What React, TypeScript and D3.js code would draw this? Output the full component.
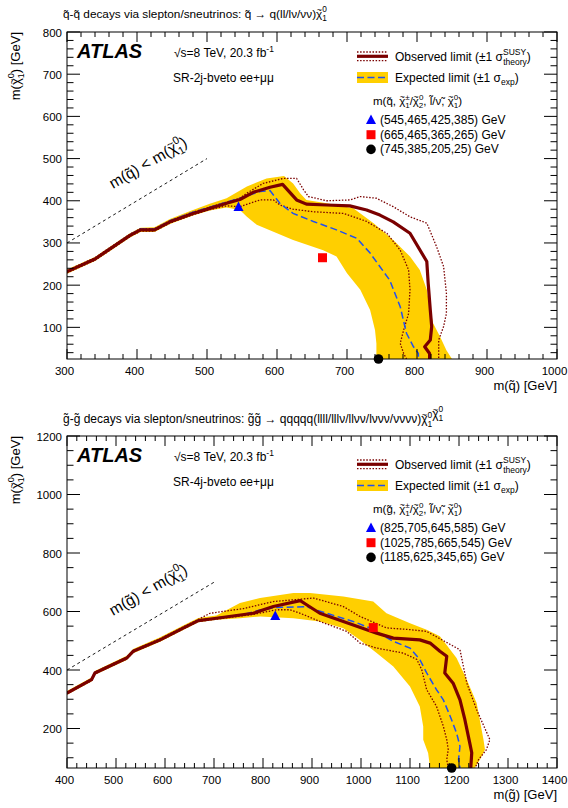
import React from "react";
import * as d3 from "d3";

type P = [number, number];

// ---------------- Top panel (squark) data ----------------
const sqXTicks = [300, 400, 500, 600, 700, 800, 900, 1000];
const sqYTicks = [100, 200, 300, 400, 500, 600, 700, 800];

const sqObserved: P[] = [
  [300, 232], [340, 262], [390, 318], [405, 331], [425, 331], [447, 350], [480, 370],
  [504, 382], [528, 394], [547, 403], [566, 420], [590, 432], [608, 439], [628, 402],
  [642, 392], [671, 390], [704, 388], [728, 378], [747, 366], [766, 350], [790, 323],
  [814, 256], [816, 204], [819, 141], [821, 102], [819, 70], [811, 54], [818, 38], [818, 25],
];
const sqObsUp: P[] = [
  [300, 235], [340, 265], [390, 321], [405, 334], [425, 334], [447, 353], [480, 373],
  [504, 385], [528, 397], [547, 406], [557, 418], [580, 441], [609, 453], [628, 453],
  [638, 426], [645, 410], [671, 400], [704, 402], [719, 410], [742, 406], [766, 386],
  [790, 362], [814, 347], [828, 291], [838, 244], [842, 181], [842, 133], [838, 102],
  [831, 70], [831, 38], [831, 25],
];
const sqObsDown: P[] = [
  [300, 229], [340, 259], [390, 315], [405, 328], [425, 328], [447, 347], [480, 367],
  [504, 379], [528, 388], [547, 386], [576, 402], [595, 402], [604, 390], [623, 380],
  [652, 374], [695, 370], [728, 351], [757, 323], [776, 283], [788, 236], [790, 189],
  [788, 133], [781, 94], [776, 62], [781, 38], [785, 25],
];
const sqExpected: P[] = [
  [300, 233], [340, 263], [390, 320], [405, 333], [425, 333], [447, 353], [480, 373],
  [504, 385], [528, 397], [547, 406], [576, 422], [590, 424], [604, 394], [623, 370],
  [652, 351], [685, 331], [714, 311], [733, 276], [761, 212], [776, 149], [785, 86],
  [795, 54], [802, 38], [802, 25],
];
const sqBandUp: P[] = [
  [300, 237], [340, 267], [390, 323], [405, 336], [425, 337], [447, 357], [480, 378],
  [504, 393], [528, 406], [557, 434], [585, 453], [610, 459], [623, 441], [633, 418],
  [642, 402], [671, 394], [709, 382], [738, 347], [766, 307], [790, 268], [804, 236],
  [814, 189], [819, 141], [823, 110], [833, 78], [842, 46], [850, 25],
];
const sqBandDown: P[] = [
  [300, 227], [340, 257], [390, 313], [405, 326], [425, 326], [447, 345], [480, 365],
  [504, 377], [528, 384], [547, 378], [557, 362], [571, 343], [600, 323], [623, 307],
  [666, 283], [685, 268], [700, 228], [719, 189], [733, 141], [740, 94], [742, 62], [742, 25],
];
const sqMarkers = [
  { shape: "tri", m: [545, 385] as P, label: "(545,465,425,385) GeV" },
  { shape: "sq", m: [665, 265] as P, label: "(665,465,365,265) GeV" },
  { shape: "circ", m: [745, 25] as P, label: "(745,385,205,25) GeV" },
];

// ---------------- Bottom panel (gluino) data ----------------
const glXTicks = [400, 500, 600, 700, 800, 900, 1000, 1100, 1200, 1300, 1400];
const glYTicks = [200, 400, 600, 800, 1000, 1200];

const glObserved: P[] = [
  [400, 321], [450, 367], [457, 390], [522, 441], [535, 464], [590, 503], [637, 543],
  [668, 569], [705, 577], [780, 594], [821, 617], [876, 637], [889, 623], [916, 594],
  [964, 566], [1032, 526], [1066, 509], [1120, 503], [1141, 492], [1161, 464],
  [1175, 447], [1171, 390], [1188, 355], [1202, 298], [1212, 230], [1222, 150],
  [1226, 117], [1224, 65],
];
const glObsUp: P[] = [
  [400, 324], [450, 370], [457, 393], [522, 444], [535, 467], [590, 507], [637, 547],
  [668, 573], [692, 594], [760, 610], [821, 634], [903, 646], [964, 617], [998, 583],
  [1052, 544], [1100, 538], [1134, 532], [1202, 469], [1216, 355], [1236, 264],
  [1263, 162], [1256, 128], [1240, 94], [1233, 65],
];
const glObsDown: P[] = [
  [400, 318], [450, 364], [457, 387], [522, 438], [535, 461], [590, 500], [637, 540],
  [668, 566], [705, 574], [780, 590], [828, 606], [855, 606], [876, 594], [916, 566],
  [971, 532], [998, 492], [1032, 475], [1086, 458], [1114, 436], [1124, 401],
  [1134, 333], [1154, 276], [1168, 208], [1175, 162], [1178, 128], [1175, 94], [1178, 65],
];
const glExpected: P[] = [
  [400, 322], [450, 368], [457, 391], [522, 442], [535, 465], [590, 504], [637, 544],
  [668, 570], [705, 578], [760, 590], [794, 605], [828, 614], [889, 616], [930, 594],
  [984, 566], [1018, 544], [1066, 498], [1100, 475], [1120, 436], [1134, 390],
  [1154, 333], [1168, 298], [1182, 242], [1195, 185], [1202, 139], [1199, 94], [1202, 65],
];
const glBandUp: P[] = [
  [400, 328], [450, 374], [457, 397], [522, 449], [535, 472], [590, 512], [637, 552],
  [668, 578], [705, 586], [753, 629], [794, 646], [862, 663], [896, 663], [964, 651],
  [1025, 634], [1052, 594], [1100, 560], [1134, 538], [1161, 515], [1195, 441],
  [1216, 367], [1236, 287], [1250, 162], [1253, 128], [1243, 94], [1232, 65],
];
const glBandDown: P[] = [
  [400, 315], [450, 361], [457, 384], [522, 434], [535, 457], [590, 497], [637, 537],
  [668, 563], [705, 572], [753, 577], [794, 583], [862, 577], [916, 566], [964, 543],
  [998, 503], [1032, 458], [1066, 412], [1100, 344], [1120, 275], [1127, 207],
  [1127, 162], [1137, 116], [1141, 65],
];
const glMarkers = [
  { shape: "tri", m: [825, 585] as P, label: "(825,705,645,585) GeV" },
  { shape: "sq", m: [1025, 545] as P, label: "(1025,785,665,545) GeV" },
  { shape: "circ", m: [1185, 65] as P, label: "(1185,625,345,65) GeV" },
];

// ---------------- styling ----------------
const FONT = "'Liberation Sans', Arial, Helvetica, sans-serif";
const RED = "#7a0000";
const BLUE = "#2050f0";
const YEL = "#ffcf00";

const T = (s: string) => s + "\u0303";

// chi with manual tilde, stacked subscript / superscript, then trailing text
function chi(fs: number, sub: string, sup: string, after: string, k: string) {
  const sfs = 0.7 * fs;
  const w = sub.length * 0.556 * sfs;
  return [
    <tspan key={k + "0"}>{"\u03C7"}</tspan>,
    <tspan key={k + "1"} fontSize={0.75 * fs} dx={-0.47 * fs} dy={-0.42 * fs}>~</tspan>,
    <tspan key={k + "2"} fontSize={sfs} dx={0.03 * fs} dy={0.42 * fs + 0.3 * fs}>{sub}</tspan>,
    <tspan key={k + "3"} fontSize={sfs} dx={-w} dy={-0.75 * fs}>{sup}</tspan>,
    <tspan key={k + "4"} dy={0.45 * fs}>{after}</tspan>,
  ];
}

function Marker({ shape, cx, cy }: { shape: string; cx: number; cy: number }) {
  if (shape === "tri")
    return <path d={`M${cx},${cy - 5.5}L${cx + 5},${cy + 4}L${cx - 5},${cy + 4}Z`} fill="#0000ff" />;
  if (shape === "sq") return <rect x={cx - 4.5} y={cy - 4.5} width={9} height={9} fill="#ff0000" />;
  return <circle cx={cx} cy={cy} r={4.8} fill="#000" />;
}

type PanelProps = {
  id: string;
  x0: number; x1: number; y0: number; y1: number;
  xDom: [number, number]; yDom: [number, number];
  xTicks: number[]; yTicks: number[]; xMinor: number; yMinor: number;
  obs: P[]; obsUp: P[]; obsDown: P[]; exp: P[]; bandUp: P[]; bandDown: P[];
  markers: { shape: string; m: P; label: string }[];
  part: string; sr: string; diagEnd: number;
  legDy: number; textDy: number;
};

function Panel(p: PanelProps) {
  const x = d3.scaleLinear().domain(p.xDom).range([p.x0, p.x1]);
  const y = d3.scaleLinear().domain(p.yDom).range([p.y1, p.y0]);
  const line = d3.line<P>().x((d) => x(d[0])).y((d) => y(d[1]));
  const band = line([...p.bandUp, ...p.bandDown.slice().reverse()]) + "Z";
  const xMin = d3.range(p.xDom[0], p.xDom[1] + 0.01, p.xMinor);
  const yStart = Math.ceil(p.yDom[0] / p.yMinor) * p.yMinor;
  const yMin = d3.range(yStart, p.yDom[1] + 0.01, p.yMinor);
  const fs = 11.5;
  const dStart = p.xDom[0];
  const dx0 = x(dStart), dy0 = y(dStart), dx1 = x(p.diagEnd), dy1 = y(p.diagEnd);
  const ang = (Math.atan2(dy1 - dy0, dx1 - dx0) * 180) / Math.PI;
  const L = p.legDy;
  const Tt = p.textDy;
  return (
    <g fontFamily={FONT}>
      <defs>
        <clipPath id={p.id}>
          <rect x={p.x0} y={p.y0} width={p.x1 - p.x0} height={p.y1 - p.y0} />
        </clipPath>
      </defs>
      <g clipPath={`url(#${p.id})`}>
        <path d={band} fill={YEL} />
        <path d={line(p.obsUp)!} fill="none" stroke={RED} strokeWidth={1.3} strokeDasharray="1.5,1.6" />
        <path d={line(p.obsDown)!} fill="none" stroke={RED} strokeWidth={1.3} strokeDasharray="1.5,1.6" />
        <path d={line(p.exp)!} fill="none" stroke={BLUE} strokeWidth={1.5} strokeDasharray="7,3.5" />
        <path d={line(p.obs)!} fill="none" stroke={RED} strokeWidth={3.2} strokeLinejoin="round" />
        <line x1={dx0} y1={dy0} x2={dx1} y2={dy1} stroke="#000" strokeWidth={0.9} strokeDasharray="3,3" />
      </g>
      {/* diagonal label */}
      <text transform={`translate(${dx0 + 46},${dy0 - 54}) rotate(${ang + 1})`} fontSize={15.5}>
        m({p.part}) &lt; m{"("}
        {chi(15.5, "1", "0", ")", "dg")}
      </text>
      {/* frame */}
      <rect x={p.x0} y={p.y0} width={p.x1 - p.x0} height={p.y1 - p.y0} fill="none" stroke="#000" strokeWidth={1} />
      {/* ticks */}
      {xMin.map((v) => {
        const maj = p.xTicks.includes(v);
        const l = maj ? 10 : 5;
        return (
          <g key={"xt" + v} stroke="#000" strokeWidth={1}>
            <line x1={x(v)} x2={x(v)} y1={p.y1} y2={p.y1 - l} />
            <line x1={x(v)} x2={x(v)} y1={p.y0} y2={p.y0 + l} />
          </g>
        );
      })}
      {yMin.map((v) => {
        const maj = p.yTicks.includes(v);
        const l = maj ? 13 : 6.5;
        return (
          <g key={"yt" + v} stroke="#000" strokeWidth={1}>
            <line x1={p.x0} x2={p.x0 + l} y1={y(v)} y2={y(v)} />
            <line x1={p.x1} x2={p.x1 - l} y1={y(v)} y2={y(v)} />
          </g>
        );
      })}
      {p.xTicks.map((v) => (
        <text key={"xl" + v} x={x(v) - 2.5} y={p.y1 + 16} fontSize={fs} textAnchor="middle">{v}</text>
      ))}
      {p.yTicks.map((v) => (
        <text key={"yl" + v} x={p.x0 - 5} y={y(v) + 4.5} fontSize={fs} textAnchor="end">{v}</text>
      ))}
      {/* axis titles */}
      <text x={p.x1} y={p.y1 + 31} fontSize={13} textAnchor="end">m({p.part}) [GeV]</text>
      <text transform={`translate(20,${p.y0}) rotate(-90)`} fontSize={13} textAnchor="end">
        m{"("}
        {chi(13, "1", "0", ") [GeV]", "ya")}
      </text>
      {/* ATLAS block */}
      <text x={77} y={p.y0 + 26 + Tt} fontSize={20} fontWeight="bold" fontStyle="italic">ATLAS</text>
      <text x={174} y={p.y0 + 25 + Tt} fontSize={12}>
        {"\u221As=8 TeV, 20.3 fb"}<tspan fontSize={8.5} dy={-5}>-1</tspan>
      </text>
      <text x={173} y={p.y0 + 50 + Tt} fontSize={12}>{p.sr}</text>
      {/* legend */}
      <g>
        <line x1={357} x2={388} y1={p.y0 + 20 + L} y2={p.y0 + 20 + L} stroke={RED} strokeWidth={1.3} strokeDasharray="1.5,1.6" />
        <line x1={357} x2={388} y1={p.y0 + 28.7 + L} y2={p.y0 + 28.7 + L} stroke={RED} strokeWidth={1.3} strokeDasharray="1.5,1.6" />
        <line x1={357} x2={388} y1={p.y0 + 24.3 + L} y2={p.y0 + 24.3 + L} stroke={RED} strokeWidth={3.2} />
        <text x={395} y={p.y0 + 28.5 + L} fontSize={12}>
          {"Observed limit (\u00B11 \u03C3"}
          <tspan fontSize={8.5} dy={-6}>SUSY</tspan>
          <tspan fontSize={8.5} dx={-23} dy={10}>theory</tspan>
          <tspan dy={-4}>)</tspan>
        </text>
        <rect x={357} y={p.y0 + 40 + L} width={31} height={11} fill={YEL} />
        <line x1={357} x2={388} y1={p.y0 + 45.5 + L} y2={p.y0 + 45.5 + L} stroke={BLUE} strokeWidth={1.5} strokeDasharray="7,3.5" />
        <text x={395} y={p.y0 + 50 + L} fontSize={12}>
          {"Expected limit (\u00B11 \u03C3"}
          <tspan fontSize={8.5} dy={3}>exp</tspan>
          <tspan dy={-3}>)</tspan>
        </text>
        <text x={373} y={p.y0 + 73 + L} fontSize={11.5}>
          {"m(" + p.part + ", "}
          {chi(11.5, "1", "\u00B1", "/", "h1")}
          {chi(11.5, "2", "0", ", " + T("l") + "/" + T("\u03BD") + ", ", "h2")}
          {chi(11.5, "1", "0", ")", "h3")}
        </text>
        {p.markers.map((mk, i) => (
          <g key={"lm" + i}>
            <Marker shape={mk.shape} cx={371} cy={p.y0 + 88 + L + i * 14.7} />
            <text x={380} y={p.y0 + 92 + L + i * 14.7} fontSize={12}>{mk.label}</text>
          </g>
        ))}
      </g>
      {/* benchmark markers */}
      {p.markers.map((mk, i) => (
        <Marker key={"pm" + i} shape={mk.shape} cx={x(mk.m[0])} cy={y(mk.m[1])} />
      ))}
    </g>
  );
}

export default function App() {
  return (
    <svg width={568} height={808} style={{ display: "block", position: "absolute", left: 0, top: 0 }}>
      <rect width={568} height={808} fill="#fff" />
      <text x={63} y={17.5} fontSize={11.8} fontFamily={FONT}>
        {T("q") + "-" + T("q") + " decays via slepton/sneutrinos: " + T("q") + " \u2192 q(ll/l\u03BD/\u03BD\u03BD)"}
        {chi(11.8, "1", "0", "", "t1")}
      </text>
      <Panel
        id="clipTop"
        x0={67} x1={557} y0={32} y1={359}
        xDom={[300, 1000]} yDom={[25, 800]}
        xTicks={sqXTicks} yTicks={sqYTicks} xMinor={20} yMinor={20}
        obs={sqObserved} obsUp={sqObsUp} obsDown={sqObsDown} exp={sqExpected}
        bandUp={sqBandUp} bandDown={sqBandDown} markers={sqMarkers}
        part={T("q")} sr={"SR-2j-bveto ee+\u03BC\u03BC"} diagEnd={500}
        legDy={0} textDy={0}
      />
      <text x={63} y={423} fontSize={12} fontFamily={FONT}>
        {T("g") + "-" + T("g") + " decays via slepton/sneutrinos: " + T("g") + T("g") +
          " \u2192 qqqqq(llll/lll\u03BD/ll\u03BD\u03BD/l\u03BD\u03BD\u03BD/\u03BD\u03BD\u03BD\u03BD)"}
        {chi(12, "1", "0", "", "t2")}
        {chi(12, "1", "0", "", "t3")}
      </text>
      <Panel
        id="clipBot"
        x0={67} x1={557} y0={436} y1={768}
        xDom={[400, 1400]} yDom={[65, 1200]}
        xTicks={glXTicks} yTicks={glYTicks} xMinor={20} yMinor={50}
        obs={glObserved} obsUp={glObsUp} obsDown={glObsDown} exp={glExpected}
        bandUp={glBandUp} bandDown={glBandDown} markers={glMarkers}
        part={T("g")} sr={"SR-4j-bveto ee+\u03BC\u03BC"} diagEnd={700}
        legDy={4} textDy={0}
      />
    </svg>
  );
}
